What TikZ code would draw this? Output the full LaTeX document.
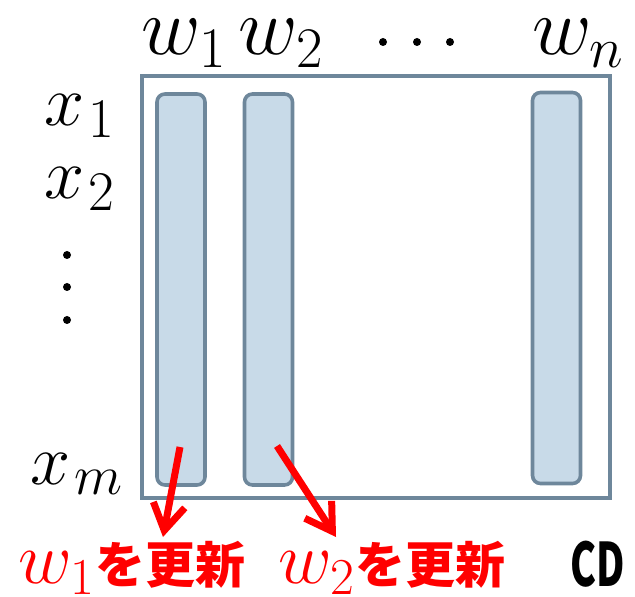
\documentclass[tikz,border=0pt]{standalone}
\usepackage{fix-cm}
\usepackage{fontspec}
\newfontfamily\jpfont{Noto Sans CJK JP}
\usetikzlibrary{positioning, arrows.meta}
\DeclareMathSizes{36}{36}{28}{20}
\definecolor{frame}{RGB}{110,135,155}
\definecolor{colfill}{RGB}{200,218,232}

\begin{document}
\begin{tikzpicture}[
      x=0.5pt, y=-0.5pt,
      col/.style={draw=frame, line width=1.8pt, fill=colfill, rounded corners=4pt, minimum width=24pt, minimum height=195.5pt, inner sep=0pt},
      lab/.style={font=\fontsize{41}{46}\selectfont, anchor=base, inner sep=0pt},
      rowlab/.style={font=\fontsize{36}{40}\selectfont, anchor=base, inner sep=0pt},
      upd/.style={font=\fontsize{37}{42}\selectfont, anchor=base, inner sep=0pt, text=red},
      updarrow/.style={-{Straight Barb[length=13pt, width=16pt]}, red, line width=3.5pt},
      dot/.style={circle, fill=black, inner sep=0pt, minimum size=4pt}
    ]
      \useasboundingbox (0,0) rectangle (635,597);

      % matrix and columns
      \node[draw=frame, line width=2pt, minimum width=234pt, minimum height=211pt, inner sep=0pt] (mat) at (376,287) {};
      \node[col] (c1) at (181,289.5) {};
      \node[col] (c2) at (268.5,289.5) {};
      \node[col] (cn) at (556.5,288) {};

      % column labels
      \node[lab] (w1) at (184,55) {$w_1$};
      \node[lab] (w2) at (281,55) {$w_2$};
      \node[lab] (wn) at (578,55) {$w_n$};
      \foreach \x in {383,417,450}
        \node[dot] at (\x,42) {};

      % row labels
      \node[rowlab] (x1) at (80,126) {$x_{\kern2pt1}$};
      \node[rowlab] (x2) at (80,199) {$x_{\kern2pt2}$};
      \node[rowlab] (xm) at (77,484) {$x_{\kern2pt m}$};
      \foreach \y in {255,287,320}
        \node[dot] at (67,\y) {};

      % updates
      \node[upd] (u1) at (132,583) {$w_1$\jpfont\bfseries\fontsize{25}{30}\selectfont を更新};
      \node[upd] (u2) at (392,583) {$w_2$\jpfont\bfseries\fontsize{25}{30}\selectfont を更新};
      \node[anchor=base, inner sep=0pt, font=\jpfont\bfseries\fontsize{30}{34}\selectfont, xscale=0.65] (cd) at (598,586) {CD};

      \coordinate (s1) at (180,447);
      \coordinate (e1) at (163,537);
      \coordinate (s2) at (277,446);
      \coordinate (e2) at (336,537);
      \draw[updarrow] (s1) -- (e1);
      \draw[updarrow] (s2) -- (e2);
    \end{tikzpicture}
\end{document}
